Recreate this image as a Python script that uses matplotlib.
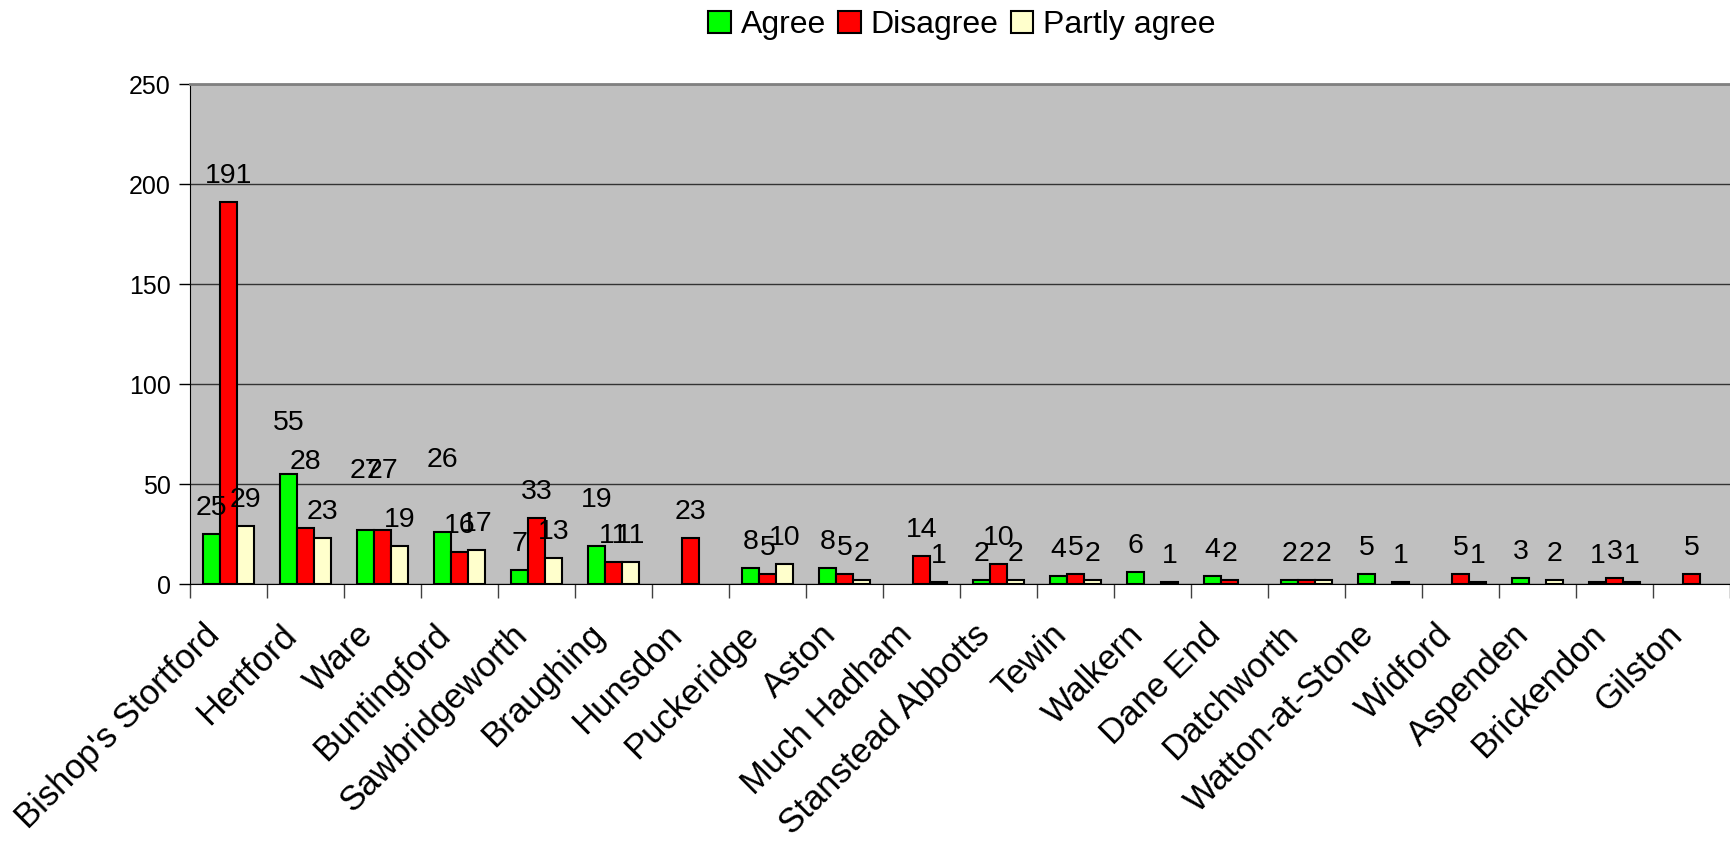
import numpy as np
import matplotlib
matplotlib.use("Agg")
import matplotlib.pyplot as plt
import matplotlib.transforms as mtransforms
from matplotlib.ticker import MultipleLocator

plt.rcParams["font.family"] = ["Liberation Sans", "DejaVu Sans"]

towns = [
    "Bishop's Stortford", "Hertford", "Ware", "Buntingford", "Sawbridgeworth",
    "Braughing", "Hunsdon", "Puckeridge", "Aston", "Much Hadham",
    "Stanstead Abbotts", "Tewin", "Walkern", "Dane End", "Datchworth",
    "Watton-at-Stone", "Widford", "Aspenden", "Brickendon", "Gilston",
]
nan = np.nan
agree = [25, 55, 27, 26, 7, 19, nan, 8, 8, nan, 2, 4, 6, 4, 2, 5, nan, 3, 1, nan]
disagree = [191, 28, 27, 16, 33, 11, 23, 5, 5, 14, 10, 5, nan, 2, 2, nan, 5, nan, 3, 5]
partly = [29, 23, 19, 17, 13, 11, nan, 10, 2, 1, 2, 2, 1, nan, 2, 1, 1, 2, 1, nan]

series_names = ["Agree", "Disagree", "Partly agree"]
series_colors = ["#00FF00", "#FF0000", "#FFFFCC"]

# extra lift (pixels) for labels that Excel pushed higher
label_lift = {(1, 0): 25, (1, 1): 40, (2, 0): 33, (2, 1): 33, (3, 0): 46, (5, 0): 20}

fig = plt.figure(figsize=(17.3, 8.43), dpi=100)
ax = fig.add_axes([190 / 1730, 1 - 584 / 843, 1 - 190 / 1730, (584 - 84) / 843])
ax.set_facecolor("#C0C0C0")

x = np.arange(len(towns))
width = 0.22
px = 72 / 100  # points per pixel

for s, (vals, name, col) in enumerate(zip([agree, disagree, partly], series_names, series_colors)):
    pos = x + (s - 1) * width
    ax.bar(pos, vals, width, color=col, edgecolor="black", linewidth=1.5, label=name, zorder=3)
    for i, v in enumerate(vals):
        if np.isnan(v):
            continue
        lift = 26 + label_lift.get((i, s), 0)
        ax.annotate(f"{v:g}", (pos[i], v), xytext=(0, lift * px), textcoords="offset points",
                    ha="center", va="center", fontsize=20.5, zorder=4)

ax.set_xlim(-0.5, len(towns) - 0.5)
ax.set_ylim(0, 250)
ax.yaxis.set_major_locator(MultipleLocator(50))
ax.grid(axis="y", color="#333333", linewidth=1.0, zorder=1)
ax.set_axisbelow(True)

ax.set_xticks(x)
ax.set_xticklabels(towns, rotation=45, ha="right", va="center", rotation_mode="anchor", fontsize=25)
ax.tick_params(axis="x", which="major", length=0, pad=33)
shift = mtransforms.ScaledTranslation(-14 / 100, 0, fig.dpi_scale_trans)
for lbl in ax.get_xticklabels():
    lbl.set_transform(lbl.get_transform() + shift)
ax.set_xticks(np.arange(-0.5, len(towns)), minor=True)
ax.tick_params(axis="x", which="minor", length=10, width=1, color="#404040", direction="out")
ax.tick_params(axis="y", labelsize=18, length=8, width=1, pad=6)

ax.spines["right"].set_visible(False)
ax.spines["top"].set_color("#808080")
ax.spines["top"].set_linewidth(2)
ax.spines["left"].set_color("black")
ax.spines["bottom"].set_color("black")

fig.legend(loc="center", bbox_to_anchor=(962 / 1730, 1 - 25 / 843), ncol=3, frameon=False,
           fontsize=23, handlelength=0.7, handleheight=0.7, handletextpad=0.3,
           columnspacing=0.4, borderaxespad=0.0)

fig.savefig("out.png", dpi=100)
